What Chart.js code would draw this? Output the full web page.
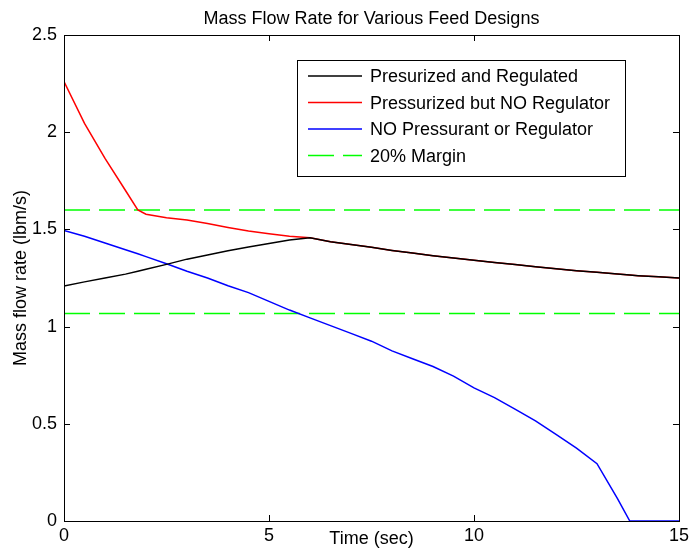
<!DOCTYPE html>
<html>
<head>
<meta charset="utf-8">
<script src="https://cdn.jsdelivr.net/npm/chart.js@4"></script>
<style>
  html, body { margin: 0; padding: 0; background: #fff; }
  #wrap { width: 693px; height: 550px; }
</style>
</head>
<body>
<div id="wrap"><canvas id="c" width="693" height="550"></canvas></div>
<script>
// ---- data ----
const chartTitle = 'Mass Flow Rate for Various Feed Designs';
const xTitle = 'Time (sec)';
const yTitle = 'Mass flow rate (lbm/s)';
const seriesLabels = ['Presurized and Regulated', 'Pressurized but NO Regulator', 'NO Pressurant or Regulator', '20% Margin'];
const seriesColors = ['#000000', '#ff0000', '#0000ff', '#00ff00'];

const time = [0,0.5,1,1.5,1.8,2,2.5,3,3.5,4,4.5,5,5.5,6,6.5,7,7.5,8,8.5,9,9.5,10,10.5,11,11.5,12,12.5,13,13.5,13.8,14,14.5,15];
const regulated = [1.209,1.23,1.25,1.27,1.285,1.295,1.32,1.347,1.368,1.39,1.41,1.428,1.445,1.457,1.437,1.422,1.408,1.392,1.378,1.365,1.353,1.341,1.33,1.319,1.308,1.297,1.287,1.279,1.27,1.265,1.262,1.256,1.25];
const noRegulator = [2.26,2.045,1.865,1.70,1.60,1.578,1.56,1.548,1.53,1.51,1.492,1.478,1.465,1.457,1.437,1.422,1.408,1.392,1.378,1.365,1.353,1.341,1.33,1.319,1.308,1.297,1.287,1.279,1.27,1.265,1.262,1.256,1.25];
const noPressurant = [1.495,1.465,1.43,1.395,1.375,1.36,1.323,1.285,1.25,1.21,1.175,1.13,1.085,1.045,1.005,0.965,0.925,0.875,0.835,0.795,0.745,0.685,0.635,0.575,0.515,0.445,0.375,0.295,0.115,0,0,0,0];
const marginTime = [0, 15];
const marginUpper = [1.6, 1.6];
const marginLower = [1.067, 1.067];

const xTickLabels = ['0', '5', '10', '15'];
const yTickLabels = ['0', '0.5', '1', '1.5', '2', '2.5'];

// ---- build ----
const pts = (xs, ys) => xs.map((x, i) => ({ x: x, y: ys[i] }));
const FONT = 'Liberation Sans, Arial, Helvetica, sans-serif';
const LW = 1.5;

const boxAndTicks = {
  id: 'boxAndTicks',
  afterDatasetsDraw(chart) {
    const { ctx, chartArea: a, scales: { x, y } } = chart;
    ctx.save();
    ctx.strokeStyle = '#000';
    ctx.lineWidth = 1;
    ctx.strokeRect(Math.round(a.left) + 0.5, Math.round(a.top) + 0.5,
      Math.round(a.right - a.left), Math.round(a.bottom - a.top));
    const L = 6;
    ctx.beginPath();
    x.ticks.forEach(t => {
      const px = Math.round(x.getPixelForValue(t.value)) + 0.5;
      ctx.moveTo(px, a.bottom); ctx.lineTo(px, a.bottom - L);
      ctx.moveTo(px, a.top); ctx.lineTo(px, a.top + L);
    });
    y.ticks.forEach(t => {
      const py = Math.round(y.getPixelForValue(t.value)) + 0.5;
      ctx.moveTo(a.left, py); ctx.lineTo(a.left + L, py);
      ctx.moveTo(a.right, py); ctx.lineTo(a.right - L, py);
    });
    ctx.stroke();

    // title centred over the axes
    ctx.font = '18px ' + FONT;
    ctx.fillStyle = '#000';
    ctx.textAlign = 'center';
    ctx.textBaseline = 'middle';
    ctx.fillText(chartTitle, (a.left + a.right) / 2, 19);

    // legend
    const bx = 297.5, by = 60.5, bw = 328, bh = 116;
    ctx.fillStyle = '#fff';
    ctx.fillRect(bx, by, bw, bh);
    ctx.strokeRect(bx, by, bw, bh);
    const items = chart.data.datasets.filter(d => !d.hideInLegend);
    ctx.textAlign = 'left';
    items.forEach((d, i) => {
      const ry = 76 + i * 26.5;
      ctx.beginPath();
      ctx.lineWidth = LW;
      ctx.strokeStyle = seriesColors[i];
      ctx.setLineDash(d.borderDash || []);
      ctx.moveTo(308, ry); ctx.lineTo(362, ry);
      ctx.stroke();
      ctx.setLineDash([]);
      ctx.fillStyle = '#000';
      ctx.fillText(d.label, 370, ry + 1.5);
    });
    ctx.restore();
  }
};

const lineDs = (label, data, color, extra) => Object.assign({
  label: label, data: data, borderColor: color, backgroundColor: color,
  borderWidth: LW, pointRadius: 0, tension: 0, fill: false
}, extra || {});

new Chart(document.getElementById('c'), {
  type: 'line',
  data: {
    datasets: [
      lineDs(seriesLabels[0], pts(time, regulated), seriesColors[0]),
      lineDs(seriesLabels[1], pts(time, noRegulator), seriesColors[1]),
      lineDs(seriesLabels[2], pts(time, noPressurant), seriesColors[2]),
      lineDs(seriesLabels[3], pts(marginTime, marginUpper), seriesColors[3], { borderDash: [26, 9] }),
      lineDs(seriesLabels[3], pts(marginTime, marginLower), seriesColors[3], { borderDash: [26, 9], hideInLegend: true })
    ]
  },
  options: {
    responsive: false,
    animation: false,
    devicePixelRatio: 1,
    layout: { padding: { left: 0, right: 12, top: 35, bottom: 0 } },
    plugins: {
      legend: { display: false },
      tooltip: { enabled: false },
      title: { display: false }
    },
    scales: {
      x: {
        type: 'linear', min: 0, max: 15,
        grid: { display: false, drawTicks: false },
        border: { display: false },
        ticks: {
          stepSize: 5, padding: 4, color: '#000', maxRotation: 0,
          font: { family: FONT, size: 18 },
          callback: (v, i) => xTickLabels[i]
        },
        title: {
          display: true, text: xTitle, color: '#000',
          font: { family: FONT, size: 18 },
          padding: { top: 0, bottom: 0 }
        },
        afterFit: s => { s.height = 29; }
      },
      y: {
        type: 'linear', min: 0, max: 2.5,
        grid: { display: false, drawTicks: false },
        border: { display: false },
        ticks: {
          stepSize: 0.5, padding: 7, color: '#000',
          font: { family: FONT, size: 18 },
          callback: (v, i) => yTickLabels[i]
        },
        title: {
          display: true, text: yTitle, color: '#000',
          font: { family: FONT, size: 18 },
          padding: { top: 10.2, bottom: 0 }
        },
        afterFit: s => { s.width = 64; }
      }
    }
  },
  plugins: [boxAndTicks]
});
</script>
</body>
</html>
